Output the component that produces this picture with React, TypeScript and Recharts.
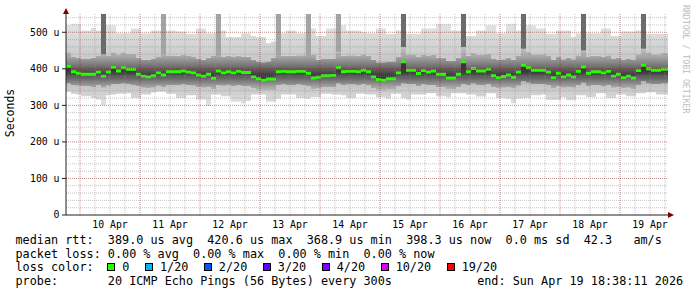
import React from 'react';
import { ComposedChart, Area, XAxis, YAxis, ReferenceLine } from 'recharts';

// time axis in hours, 0 = 10 Apr 00:00
const START_HOUR = -5.6;
const STEP_HOURS = 2;
const END_HOUR = 235.2;

const median = [
  407, 392, 388, 385, 385, 385, 391, 380, 391, 404,
  394, 403, 399, 399, 385, 380, 378, 381, 389, 383,
  392, 392, 392, 394, 391, 389, 383, 380, 385, 374,
  394, 389, 392, 389, 393, 390, 390, 378, 373, 369,
  372, 372, 392, 393, 392, 392, 393, 393, 388, 375,
  377, 381, 381, 382, 403, 392, 393, 393, 392, 396,
  392, 378, 371, 369, 373, 373, 389, 419, 396, 396,
  387, 395, 391, 394, 385, 385, 375, 375, 385, 419,
  392, 401, 394, 394, 399, 381, 376, 379, 383, 377,
  391, 410, 403, 396, 396, 396, 391, 376, 388, 378,
  383, 378, 393, 405, 388, 392, 392, 389, 393, 380,
  385, 376, 380, 375, 395, 410, 400, 396, 396, 399,
];

const lo = [
  337, 332, 330, 325, 325, 320, 316, 300, 328, 330, 332, 332, 333, 320, 320, 330, 330, 335, 337, 337,
  332, 332, 320, 320, 328, 328, 316, 316, 298, 330, 330, 325, 325, 310, 310, 305, 312, 330, 330, 330,
  310, 310, 318, 330, 330, 330, 320, 320, 318, 323, 323, 332, 332, 330, 330, 328, 320, 320, 332, 332,
  330, 330, 322, 322, 318, 332, 332, 320, 316, 330, 330, 330, 333, 333, 325, 325, 322, 333, 333, 333,
  330, 330, 324, 324, 333, 333, 320, 320, 318, 305, 318, 320, 320, 328, 328, 330, 315, 315, 315, 322,
  314, 314, 328, 328, 323, 323, 333, 333, 320, 320, 330, 330, 325, 325, 333, 333, 336, 336, 330, 330,
];

const loMid = [
  360, 356, 354, 352, 352, 350, 355, 348, 354, 358, 358, 360, 358, 356, 352, 348, 346, 348, 354, 350,
  356, 356, 355, 357, 355, 354, 350, 348, 350, 345, 356, 354, 356, 352, 355, 352, 352, 346, 342, 340,
  342, 342, 355, 357, 356, 356, 357, 356, 353, 345, 346, 350, 350, 350, 360, 356, 357, 357, 356, 358,
  355, 347, 342, 340, 343, 343, 352, 360, 358, 358, 352, 357, 355, 356, 350, 350, 345, 345, 350, 358,
  356, 360, 356, 356, 358, 350, 346, 348, 350, 346, 354, 365, 362, 358, 358, 358, 355, 346, 352, 348,
  350, 348, 355, 362, 352, 355, 355, 353, 355, 348, 350, 346, 348, 345, 356, 365, 360, 358, 358, 360,
];

const hiMid = [
  445, 432, 430, 428, 428, 430, 435, 440, 435, 445, 438, 445, 442, 442, 430, 425, 425, 428, 432, 440,
  435, 435, 436, 438, 435, 432, 428, 425, 430, 435, 438, 432, 436, 432, 436, 433, 433, 425, 420, 418,
  420, 430, 438, 436, 436, 436, 437, 437, 432, 440, 425, 428, 428, 428, 445, 436, 437, 437, 436, 440,
  436, 425, 418, 418, 420, 420, 432, 460, 440, 440, 432, 438, 435, 438, 430, 430, 422, 422, 430, 460,
  436, 444, 438, 438, 442, 428, 424, 426, 430, 425, 435, 455, 446, 440, 440, 440, 435, 425, 432, 426,
  430, 426, 437, 450, 432, 436, 436, 433, 437, 428, 430, 424, 428, 424, 440, 455, 445, 440, 440, 444,
];

const hi = [
  519, 523, 523, 505, 505, 512, 505, 505, 519, 519, 497, 497, 497, 510, 510, 497, 497, 505, 505, 480,
  505, 505, 502, 502, 495, 495, 510, 510, 497, 497, 505, 505, 487, 487, 487, 497, 497, 490, 487, 487,
  470, 475, 497, 497, 505, 505, 497, 497, 510, 510, 490, 490, 510, 510, 519, 519, 505, 505, 505, 500,
  497, 497, 510, 510, 495, 495, 505, 510, 495, 495, 495, 510, 510, 510, 523, 523, 523, 505, 505, 510,
  490, 490, 505, 505, 519, 519, 497, 497, 523, 523, 505, 505, 519, 519, 510, 510, 495, 495, 505, 505,
  505, 487, 497, 520, 497, 497, 497, 510, 510, 490, 490, 502, 502, 502, 505, 520, 495, 495, 495, 495,
];

// columns where some pings went off the top
const darkSpikes = [7, 67, 79, 91, 103, 115];
const lightSpikes = [19, 30, 42, 48, 54];
const SPIKE_TOP = 550;

const dayLabels = ['10 Apr', '11 Apr', '12 Apr', '13 Apr', '14 Apr', '15 Apr', '16 Apr', '17 Apr', '18 Apr', '19 Apr'];
const dayNoons = [12, 36, 60, 84, 108, 132, 156, 180, 204, 228];
const midnights = [0, 24, 48, 72, 96, 120, 144, 168, 192, 216];
const sixHours = [6, 12, 18, 30, 36, 42, 54, 60, 66, 78, 84, 90, 102, 108, 114, 126, 132, 138, 150, 156, 162, 174, 180, 186, 198, 204, 210, 222, 228, 234];
const yTicks = [0, 100, 200, 300, 400, 500];
const yMinor = [20, 40, 60, 80, 120, 140, 160, 180, 220, 240, 260, 280, 320, 340, 360, 380, 420, 440, 460, 480, 520, 540];

const lossColors = [
  { label: '0', color: '#26ff00' },
  { label: '1/20', color: '#00b8ff' },
  { label: '2/20', color: '#0059ff' },
  { label: '3/20', color: '#5e00ff' },
  { label: '4/20', color: '#7e00ff' },
  { label: '10/20', color: '#dd00ff' },
  { label: '19/20', color: '#ff0000' },
];

type Row = {
  t: number;
  median: number;
  lo: number;
  loMid: number;
  hiMid: number;
  hi: number;
  darkSpike: number | null;
  lightSpike: number | null;
};

const rows: Row[] = median.map((m, i) => ({
  t: START_HOUR + i * STEP_HOURS,
  median: m,
  lo: lo[i],
  loMid: loMid[i],
  hiMid: hiMid[i],
  hi: hi[i],
  darkSpike: darkSpikes.includes(i) ? SPIKE_TOP : null,
  lightSpike: lightSpikes.includes(i) ? SPIKE_TOP : null,
}));
rows.push({ ...rows[rows.length - 1], t: END_HOUR });

const MONO = '"DejaVu Sans Mono", monospace';
const GRID = 'rgba(140,140,140,0.5)';
const MGRID = 'rgba(130,30,30,0.5)';
const MEDIAN_HALF = 4;

const App: React.FC = () => {
  return (
    <div style={{ position: 'relative', width: 697, height: 297, background: '#fff', fontFamily: MONO, color: '#000' }}>
      <style>{'body{margin:0}'}</style>
      <ComposedChart width={697} height={240} data={rows} margin={{ top: 14, right: 29, bottom: 0, left: 0 }}>
        <defs>
          <linearGradient id="gTop" x1="0" y1="0" x2="0" y2="1">
            <stop offset="0%" stopColor="#e4e4e4" />
            <stop offset="100%" stopColor="#c6c6c6" />
          </linearGradient>
          <linearGradient id="gUpper" x1="0" y1="0" x2="0" y2="1">
            <stop offset="0%" stopColor="#c2c2c2" />
            <stop offset="30%" stopColor="#a6a6a6" />
            <stop offset="60%" stopColor="#6e6e6e" />
            <stop offset="85%" stopColor="#3c3c3c" />
            <stop offset="100%" stopColor="#333" />
          </linearGradient>
          <linearGradient id="gLower" x1="0" y1="0" x2="0" y2="1">
            <stop offset="0%" stopColor="#333" />
            <stop offset="35%" stopColor="#3c3c3c" />
            <stop offset="60%" stopColor="#6e6e6e" />
            <stop offset="85%" stopColor="#a2a2a2" />
            <stop offset="100%" stopColor="#bababa" />
          </linearGradient>
          <linearGradient id="gBottom" x1="0" y1="0" x2="0" y2="1">
            <stop offset="0%" stopColor="#bebebe" />
            <stop offset="100%" stopColor="#e4e4e4" />
          </linearGradient>
        </defs>
        <XAxis
          type="number"
          dataKey="t"
          domain={[START_HOUR, END_HOUR]}
          ticks={dayNoons}
          interval={0}
          tickFormatter={(v: number) => dayLabels[dayNoons.indexOf(v)]}
          tick={{ fontFamily: MONO, fontSize: 9.8, fill: '#000' }}
          tickLine={false}
          tickSize={6}
          tickMargin={0}
          height={25}
          axisLine={{ stroke: '#202020' }}
          allowDataOverflow
        />
        <YAxis
          type="number"
          domain={[0, 550]}
          ticks={yTicks}
          interval={0}
          tickFormatter={(v: number) => (v === 0 ? '0' : `${v} u`)}
          tick={{ fontFamily: MONO, fontSize: 9.8, fill: '#000' }}
          tickLine={{ stroke: '#202020' }}
          tickSize={4}
          tickMargin={2.5}
          width={66}
          axisLine={{ stroke: '#202020' }}
          allowDataOverflow
        />
        <Area type="stepAfter" dataKey={(d: Row) => [d.lo, d.loMid]} fill="url(#gBottom)" fillOpacity={1} stroke="none" isAnimationActive={false} dot={false} activeDot={false} />
        <Area type="stepAfter" dataKey={(d: Row) => [d.loMid, d.median]} fill="url(#gLower)" fillOpacity={1} stroke="none" isAnimationActive={false} dot={false} activeDot={false} />
        <Area type="stepAfter" dataKey={(d: Row) => [d.median, d.hiMid]} fill="url(#gUpper)" fillOpacity={1} stroke="none" isAnimationActive={false} dot={false} activeDot={false} />
        <Area type="stepAfter" dataKey={(d: Row) => [d.hiMid, d.hi]} fill="url(#gTop)" fillOpacity={1} stroke="none" isAnimationActive={false} dot={false} activeDot={false} />
        <Area type="stepAfter" dataKey={(d: Row) => [d.hiMid, d.lightSpike ?? d.hiMid]} fill="#a4a4a4" fillOpacity={1} stroke="none" isAnimationActive={false} dot={false} activeDot={false} />
        <Area type="stepAfter" dataKey={(d: Row) => [d.hiMid, d.darkSpike ?? d.hiMid]} fill="#6a6a6a" fillOpacity={1} stroke="none" isAnimationActive={false} dot={false} activeDot={false} />
        <Area type="stepAfter" dataKey={(d: Row) => [d.median - MEDIAN_HALF, d.median + MEDIAN_HALF]} fill="#26ff00" fillOpacity={1} stroke="none" isAnimationActive={false} dot={false} activeDot={false} />
        {sixHours.map((h) => (
          <ReferenceLine key={`vm${h}`} x={h} stroke={GRID} strokeDasharray="1 1" />
        ))}
        {midnights.map((h) => (
          <ReferenceLine key={`vM${h}`} x={h} stroke={MGRID} strokeDasharray="1 1" />
        ))}
        {yMinor.map((v) => (
          <ReferenceLine key={`hm${v}`} y={v} stroke={GRID} strokeDasharray="1 1" />
        ))}
        {yTicks.filter((v) => v > 0).map((v) => (
          <ReferenceLine key={`hM${v}`} y={v} stroke={MGRID} strokeDasharray="1 1" />
        ))}
      </ComposedChart>

      <svg width={697} height={240} style={{ position: 'absolute', left: 0, top: 0, pointerEvents: 'none' }}>
        <polygon points="63,14 69,14 66,8" fill="#7f0000" />
        <polygon points="668,212 668,218 674,215" fill="#7f0000" />
        <text x={10} y={113} transform="rotate(-90 10 113)" textAnchor="middle" dominantBaseline="central" fontFamily={MONO} fontSize={11.5} fill="#000">
          Seconds
        </text>
        <text x={686} y={5} transform="rotate(90 686 5)" textAnchor="start" dominantBaseline="central" fontFamily={MONO} fontSize={8.2} fill="#bdbdbd">
          RRDTOOL / TOBI OETIKER
        </text>
      </svg>

      <div style={{ position: 'absolute', left: 15.5, top: 234, fontSize: 11.8, lineHeight: '13.7px', whiteSpace: 'pre' }}>
        <div>median rtt:  389.0 us avg  420.6 us max  368.9 us min  398.3 us now  0.0 ms sd  42.3   am/s</div>
        <div>packet loss: 0.00 % avg  0.00 % max  0.00 % min  0.00 % now</div>
        <div>
          loss color:
          {lossColors.map((c, i) => (
            <span key={c.label}>
              <span
                style={{
                  display: 'inline-block',
                  width: 8,
                  height: 8,
                  boxSizing: 'border-box',
                  border: '1px solid #000',
                  background: c.color,
                  marginLeft: i === 0 ? 13.7 : 15.5,
                  marginRight: 7,
                }}
              />
              {c.label}
            </span>
          ))}
        </div>
        <div>probe:       20 ICMP Echo Pings (56 Bytes) every 300s            end: Sun Apr 19 18:38:11 2026</div>
      </div>
    </div>
  );
};

export default App;
